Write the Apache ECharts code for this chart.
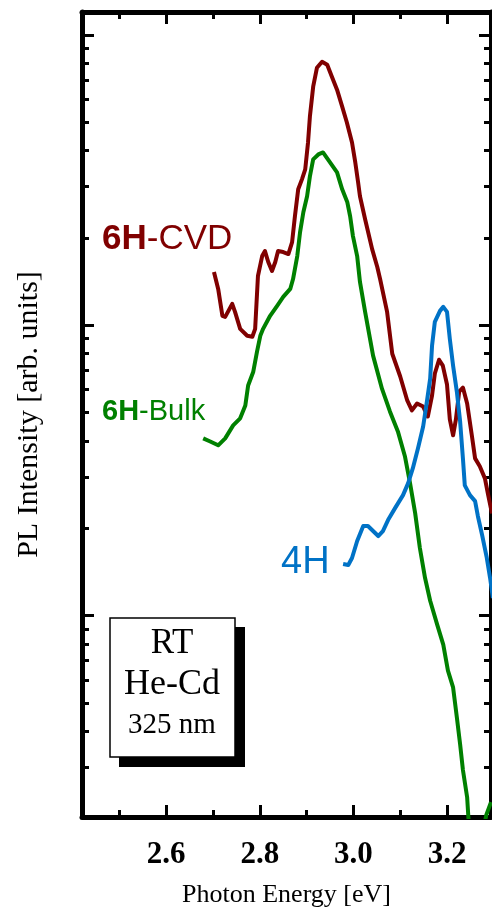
<!DOCTYPE html>
<html>
<head>
<meta charset="utf-8">
<script src="https://cdn.jsdelivr.net/npm/echarts@6/dist/echarts.min.js"></script>
<style>
  html, body { margin: 0; padding: 0; background: #fff; }
  #chart { width: 492px; height: 913px; }
</style>
</head>
<body>
<div id="chart"></div>
<script>
// photon energy [eV]
const cvdX = [2.702, 2.711, 2.720, 2.726, 2.741, 2.747, 2.758, 2.773, 2.784, 2.790, 2.796, 2.805, 2.811, 2.818, 2.826, 2.833, 2.839, 2.850, 2.861, 2.869, 2.875, 2.882, 2.890, 2.897, 2.903, 2.907, 2.914, 2.922, 2.933, 2.944, 2.954, 2.965, 2.976, 2.986, 2.997, 3.004, 3.010, 3.014, 3.025, 3.040, 3.051, 3.057, 3.072, 3.083, 3.100, 3.115, 3.125, 3.136, 3.149, 3.159, 3.168, 3.174, 3.183, 3.191, 3.200, 3.206, 3.213, 3.219, 3.226, 3.234, 3.243, 3.253, 3.260, 3.270, 3.281, 3.288, 3.296];
const cvdY = [152.6, 133.4, 107.8, 106.9, 118.5, 111.2, 97.2, 92.0, 91.3, 97.2, 147.8, 173.1, 180.1, 165.1, 153.8, 165.1, 180.1, 178.7, 175.9, 193.4, 237.4, 293.9, 318.1, 344.2, 426.1, 523.2, 663.1, 770.3, 808, 788.9, 717.5, 647.6, 566.2, 499.0, 426.1, 363.7, 310.6, 278.1, 231.9, 182.9, 158.7, 144.3, 111.2, 79.8, 66.6, 55.1, 50.9, 53.8, 52.5, 48.5, 57.3, 68.2, 76.1, 72.6, 62.5, 47.4, 41.8, 47.4, 59.1, 61.0, 53.8, 41.8, 34.8, 32.7, 29.7, 26.0, 22.5];

const bulkX = [2.679, 2.694, 2.711, 2.726, 2.743, 2.758, 2.769, 2.775, 2.786, 2.794, 2.801, 2.807, 2.822, 2.837, 2.850, 2.865, 2.871, 2.880, 2.886, 2.893, 2.901, 2.907, 2.914, 2.925, 2.935, 2.950, 2.965, 2.976, 2.987, 2.993, 2.999, 3.008, 3.014, 3.025, 3.042, 3.061, 3.078, 3.095, 3.110, 3.121, 3.132, 3.142, 3.153, 3.164, 3.179, 3.192, 3.202, 3.213, 3.221, 3.228, 3.234, 3.243, 3.247, 3.267, 3.284, 3.294];
const bulkY = [40.8, 39.8, 38.6, 40.8, 45.2, 47.8, 52.9, 62.0, 69.2, 81.1, 92.0, 97.2, 107.8, 116.7, 125.2, 133.4, 144.3, 173.1, 209.3, 245.1, 278.1, 325.7, 372.5, 387.5, 393.7, 363.7, 336.1, 293.9, 265.2, 237.4, 202.8, 173.1, 141.0, 111.2, 78.6, 60.5, 50.5, 43.1, 35.4, 28.6, 22.5, 17.1, 13.5, 11.25, 9.31, 7.95, 6.47, 5.66, 4.47, 3.61, 2.94, 2.37, 1.87, 1.48, 2.06, 2.28];

const h4X = [2.978, 2.989, 2.997, 3.008, 3.021, 3.031, 3.042, 3.053, 3.063, 3.074, 3.089, 3.106, 3.117, 3.127, 3.138, 3.149, 3.157, 3.164, 3.168, 3.174, 3.185, 3.192, 3.200, 3.206, 3.213, 3.221, 3.228, 3.234, 3.238, 3.249, 3.260, 3.266, 3.275, 3.285, 3.292, 3.298];
const h4Y = [15.07, 14.95, 15.80, 18.08, 20.35, 20.35, 19.56, 18.80, 19.56, 21.34, 23.46, 26.0, 28.6, 32.2, 37.7, 44.8, 54.6, 65.5, 85.0, 102.8, 112.1, 115.7, 111.2, 89.8, 72.6, 59.1, 46.7, 34.8, 28.1, 26.0, 24.8, 22.0, 18.95, 15.80, 13.5, 11.5];

// 刻度
const energyTicks = [2.6, 2.8, 3.0, 3.2];
const energyMinorTicks = [2.5, 2.7, 2.9, 3.1];
const intensityTicks = [10, 100, 1000];
const intensityMinorTicks = [2, 3, 4, 5, 6, 7, 8, 9, 20, 30, 40, 50, 60, 70, 80, 90, 200, 300, 400, 500, 600, 700, 800, 900];

const red = "#800000";
const green = "#008000";
const blue = "#0072c6";
const serif = "Liberation Serif";
const sans = "Liberation Sans";

const zip = (xs, ys) => xs.map((x, i) => [x, ys[i]]);

const xMin = 2.42, xMax = 3.294;
const yMin = 2.026, yMax = 1199;

function xAxisOf(position, ticks, len, withLabel, withLine) {
  return {
    type: "value",
    position: position,
    min: xMin,
    max: xMax,
    axisLine: { show: withLine, onZero: false, lineStyle: { color: "#000", width: 5 } },
    axisTick: { show: true, inside: true, length: len, customValues: ticks, lineStyle: { color: "#000", width: 3 } },
    axisLabel: withLabel
      ? {
          show: true,
          customValues: ticks,
          margin: 23,
          color: "#000",
          fontFamily: serif,
          fontWeight: "bold",
          fontSize: 31,
          lineHeight: 30,
          formatter: (v) => Number(v).toFixed(1),
        }
      : { show: false },
    splitLine: { show: false },
  };
}

function yAxisOf(position, ticks, len, withLine) {
  return {
    type: "log",
    logBase: 10,
    position: position,
    min: yMin,
    max: yMax,
    axisLine: { show: withLine, onZero: false, lineStyle: { color: "#000", width: 5 } },
    axisTick: { show: true, inside: true, length: len, customValues: ticks, lineStyle: { color: "#000", width: 3 } },
    axisLabel: { show: false },
    splitLine: { show: false },
  };
}

const xMain = xAxisOf("bottom", energyTicks, 12, true, true);
xMain.name = "Photon Energy [eV]";
xMain.nameLocation = "middle";
xMain.nameGap = 65;
xMain.nameTextStyle = { color: "#000", fontFamily: serif, fontSize: 26 };

const yMain = yAxisOf("left", intensityTicks, 12, true);
yMain.name = "PL Intensity [arb. units]";
yMain.nameLocation = "middle";
yMain.nameGap = 38;
yMain.nameTextStyle = { color: "#000", fontFamily: serif, fontSize: 30 };

const lineSeries = (name, data, color) => ({
  type: "line",
  name: name,
  data: data,
  xAxisIndex: 0,
  yAxisIndex: 0,
  showSymbol: false,
  symbol: "none",
  clip: true,
  lineStyle: { color: color, width: 4, join: "round" },
  z: 3,
});

const myChart = echarts.init(document.getElementById("chart"), null, { renderer: "canvas" });

const option = {
  backgroundColor: "#fff",
  animation: false,
  grid: { left: 82, right: 1, top: 12, bottom: 93, containLabel: false },
  xAxis: [
    xMain,
    xAxisOf("bottom", energyMinorTicks, 7, false, false),
    xAxisOf("top", energyTicks, 12, false, true),
    xAxisOf("top", energyMinorTicks, 7, false, false),
  ],
  yAxis: [
    yMain,
    yAxisOf("left", intensityMinorTicks, 7, false),
    yAxisOf("right", intensityTicks, 12, true),
    yAxisOf("right", intensityMinorTicks, 7, false),
  ],
  series: [
    lineSeries("6H-CVD", zip(cvdX, cvdY), red),
    lineSeries("6H-Bulk", zip(bulkX, bulkY), green),
    lineSeries("4H", zip(h4X, h4Y), blue),
  ],
  graphic: [
    {
      type: "text",
      left: 102,
      top: 222,
      style: {
        text: "{b|6H}{n|-CVD}",
        rich: {
          b: { fill: red, fontFamily: sans, fontWeight: "bold", fontSize: 35 },
          n: { fill: red, fontFamily: sans, fontSize: 35 },
        },
      },
    },
    {
      type: "text",
      left: 102,
      top: 397,
      style: {
        text: "{b|6H}{n|-Bulk}",
        rich: {
          b: { fill: green, fontFamily: sans, fontWeight: "bold", fontSize: 29 },
          n: { fill: green, fontFamily: sans, fontSize: 29 },
        },
      },
    },
    {
      type: "text",
      left: 281,
      top: 544,
      style: { text: "4H", fill: blue, fontFamily: sans, fontSize: 38 },
    },
    // 说明框阴影
    {
      type: "rect",
      shape: { x: 119, y: 627, width: 126, height: 140 },
      style: { fill: "#000" },
      z: 10,
    },
    {
      type: "rect",
      shape: { x: 110, y: 618, width: 125, height: 139 },
      style: { fill: "#fff", stroke: "#000", lineWidth: 1.5 },
      z: 11,
    },
    {
      type: "text",
      x: 172,
      y: 644,
      style: { text: "RT", fill: "#000", fontFamily: serif, fontSize: 35, align: "center", verticalAlign: "middle" },
      z: 12,
    },
    {
      type: "text",
      x: 172,
      y: 685,
      style: { text: "He-Cd", fill: "#000", fontFamily: serif, fontSize: 36, align: "center", verticalAlign: "middle" },
      z: 12,
    },
    {
      type: "text",
      x: 172,
      y: 725,
      style: { text: "325 nm", fill: "#000", fontFamily: serif, fontSize: 29, align: "center", verticalAlign: "middle" },
      z: 12,
    },
  ],
};

option && myChart.setOption(option);
</script>
</body>
</html>
